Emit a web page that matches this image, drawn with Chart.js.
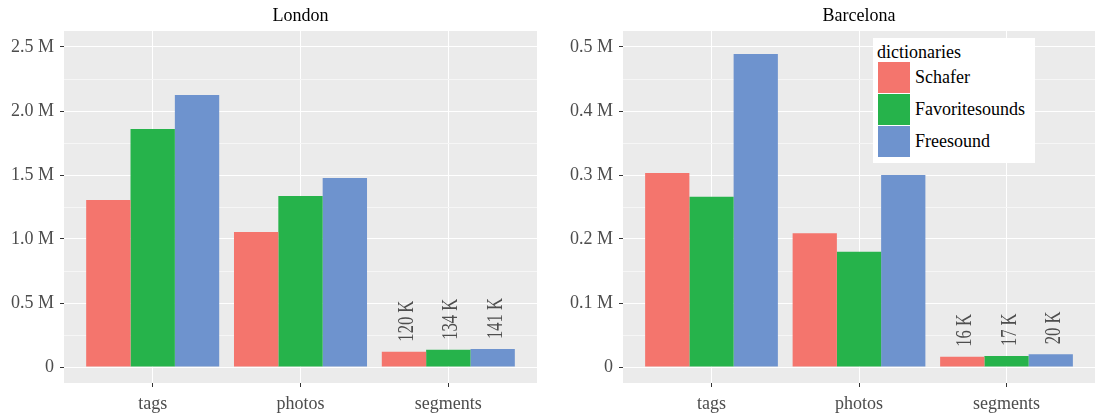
<!DOCTYPE html>
<html>
<head>
<meta charset="utf-8">
<script src="https://cdn.jsdelivr.net/npm/chart.js@4.4.1/dist/chart.umd.min.js"></script>
<style>
  body { margin: 0; background: #fff; }
  .panel { position: absolute; top: 0; }
  #legend {
    position: absolute; left: 873px; top: 38px; width: 162px; height: 125px;
    background: #fff; font-family: "Liberation Serif", serif; font-size: 18px; color: #000;
  }
  #legend .title { position: absolute; left: 4px; top: 1px; line-height: 26px; }
  #legend .key { position: absolute; left: 5px; width: 32px; height: 31px; }
  #legend .lab { position: absolute; left: 42px; line-height: 31px; }
</style>
</head>
<body>
<div class="panel" style="left:0"><canvas id="london" width="545" height="415"></canvas></div>
<div class="panel" style="left:545px"><canvas id="barcelona" width="551" height="415"></canvas></div>
<div id="legend"></div>
<script>
// data
const categories = ['tags', 'photos', 'segments'];
const dictionaries = ['Schafer', 'Favoritesounds', 'Freesound'];
const colors = ['#F4756D', '#26B34B', '#6E93CE'];

const londonSchafer = [1305000, 1055000, 120000];
const londonFavorite = [1860000, 1335000, 134000];
const londonFreesound = [2125000, 1477000, 141000];

const barcelonaSchafer = [303000, 209000, 16000];
const barcelonaFavorite = [266000, 180000, 17000];
const barcelonaFreesound = [489000, 300000, 20000];

const londonMajor = [0, 500000, 1000000, 1500000, 2000000, 2500000];
const londonMinor = [250000, 750000, 1250000, 1750000, 2250000];
const barcelonaMajor = [0, 100000, 200000, 300000, 400000, 500000];
const barcelonaMinor = [50000, 150000, 250000, 350000, 450000];

const FONT = 'Liberation Serif';

const panelBg = {
    id: 'panelBg',
    beforeDraw(chart) {
        const a = chart.chartArea;
        chart.ctx.save();
        chart.ctx.fillStyle = '#EBEBEB';
        chart.ctx.fillRect(a.left, a.top, a.right - a.left, a.bottom - a.top);
        chart.ctx.restore();
    }
};

// rotated value labels over the segments bars (narrow lettering like the original)
const segmentLabels = {
    id: 'segmentLabels',
    afterDatasetsDraw(chart) {
        const ctx = chart.ctx;
        chart.data.datasets.forEach((ds, i) => {
            const bar = chart.getDatasetMeta(i).data[2];
            const txt = Math.round(ds.data[2].y / 1000) + ' K';
            ctx.save();
            ctx.translate(bar.x + 9, bar.y - 10);
            ctx.rotate(-Math.PI / 2);
            ctx.scale(0.69, 1);
            ctx.font = '24px "' + FONT + '"';
            ctx.fillStyle = '#4D4D4D';
            ctx.textAlign = 'left';
            ctx.textBaseline = 'alphabetic';
            ctx.fillText(txt, 0, 0);
            ctx.restore();
        });
    }
};

function fmt(v) {
    if (v === 0) return '0';
    return (v / 1000000).toFixed(1) + ' M';
}

function makePanel(id, title, series, major, minor, yMin, yMax, axisWidth, padRight) {
    const allTicks = major.concat(minor).sort((a, b) => a - b);
    const isMajor = (c) => c.tick && major.includes(c.tick.value);
    new Chart(document.getElementById(id), {
        type: 'bar',
        data: {
            datasets: series.map((vals, i) => ({
                label: dictionaries[i],
                data: vals.map((v, j) => ({ x: j + 1, y: v })),
                backgroundColor: colors[i],
                borderWidth: 0,
                barPercentage: 1,
                categoryPercentage: 0.9
            }))
        },
        options: {
            responsive: false,
            animation: false,
            layout: { padding: { left: 0, right: padRight, top: 0, bottom: 0 } },
            plugins: {
                legend: { display: false },
                tooltip: { enabled: false },
                title: {
                    display: true,
                    text: title,
                    fullSize: false,
                    color: '#000',
                    font: { family: FONT, size: 18, weight: 'normal', lineHeight: 1.2 },
                    padding: { top: 5, bottom: 4.4 }
                }
            },
            scales: {
                x: {
                    type: 'linear',
                    min: 0.4,
                    max: 3.6,
                    offset: false,
                    afterBuildTicks: (s) => { s.ticks = [1, 2, 3].map(v => ({ value: v })); },
                    afterFit: (s) => { s.height = 32; },
                    border: { display: false },
                    grid: { offset: false, color: '#FFFFFF', lineWidth: 1, tickColor: '#333333', tickLength: 4, tickWidth: 1 },
                    ticks: {
                        callback: (v) => categories[v - 1],
                        color: '#4D4D4D',
                        font: { family: FONT, size: 18 },
                        padding: 6,
                        maxRotation: 0,
                        autoSkip: false
                    }
                },
                y: {
                    min: yMin,
                    max: yMax,
                    afterBuildTicks: (s) => { s.ticks = allTicks.map(v => ({ value: v })); },
                    afterFit: (s) => { s.width = axisWidth; },
                    border: { display: false },
                    grid: {
                        color: (c) => isMajor(c) ? '#FFFFFF' : '#F6F6F6',
                        lineWidth: 1,
                        tickColor: (c) => isMajor(c) ? '#333333' : 'rgba(0,0,0,0)',
                        tickLength: 4,
                        tickWidth: 1
                    },
                    ticks: {
                        callback: (v) => major.includes(v) ? fmt(v) : '',
                        color: '#4D4D4D',
                        font: { family: FONT, size: 18 },
                        padding: 6,
                        autoSkip: false
                    }
                }
            }
        },
        plugins: [panelBg, segmentLabels]
    });
}

makePanel('london', 'London', [londonSchafer, londonFavorite, londonFreesound],
    londonMajor, londonMinor, -125000, 2625000, 64, 8);
makePanel('barcelona', 'Barcelona', [barcelonaSchafer, barcelonaFavorite, barcelonaFreesound],
    barcelonaMajor, barcelonaMinor, -25000, 525000, 78, 1);

// legend
const legend = document.getElementById('legend');
legend.innerHTML = '<div class="title">dictionaries</div>' + dictionaries.map((d, i) =>
    `<div class="key" style="top:${24 + i * 32}px;background:${colors[i]}"></div>` +
    `<div class="lab" style="top:${24 + i * 32}px">${d}</div>`).join('');
</script>
</body>
</html>
